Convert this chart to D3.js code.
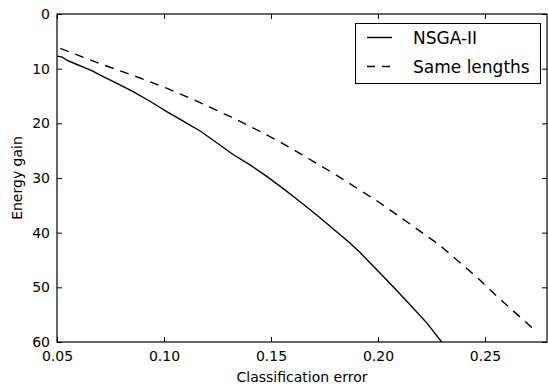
<!DOCTYPE html>
<html>
<head>
<meta charset="utf-8">
<script src="https://cdn.jsdelivr.net/npm/d3@7"></script>
<style>
  body { margin: 0; background: #fff; }
  svg { display: block; font-family: "DejaVu Sans", sans-serif; }
</style>
</head>
<body>
<div id="chart"></div>
<script>
// values
const nsgaX = [0.050, 0.0525, 0.0548, 0.0585, 0.0623, 0.0665, 0.0702, 0.078, 0.0856, 0.094, 0.1015, 0.109, 0.1169, 0.1245, 0.1323, 0.1402, 0.148, 0.1556, 0.1635, 0.1715, 0.179, 0.1869, 0.1915, 0.199, 0.2069, 0.215, 0.2228, 0.2298];
const nsgaY = [7.7, 7.9, 8.5, 9.1, 9.7, 10.4, 11.2, 12.7, 14.2, 16.1, 17.9, 19.6, 21.4, 23.5, 25.7, 27.6, 29.7, 31.9, 34.3, 36.8, 39.3, 41.9, 43.6, 46.6, 49.8, 53.2, 56.5, 60.0];
const sameX = [0.0515, 0.0702, 0.0860, 0.1015, 0.1169, 0.1295, 0.1420, 0.1542, 0.1665, 0.1790, 0.2000, 0.2135, 0.2289, 0.2467, 0.2555, 0.2723];
const sameY = [6.3, 9.1, 11.3, 13.6, 16.2, 18.5, 20.9, 23.4, 26.2, 29.1, 34.3, 38.0, 42.3, 48.3, 51.6, 57.5];
const xTicks = [0.05, 0.10, 0.15, 0.20, 0.25];
const yTicks = [0, 10, 20, 30, 40, 50, 60];
const seriesNames = ["NSGA-II", "Same lengths"];

const W = 548, H = 387;
const pLeft = 57, pRight = 547, pTop = 14, pBottom = 342;
const dash = "9,7";

const svg = d3.select("#chart").append("svg")
  .attr("width", W)
  .attr("height", H);

const x = d3.scaleLinear().domain([0.05, 0.279]).range([pLeft, pRight]);
const y = d3.scaleLinear().domain([0, 60]).range([pTop, pBottom]);

svg.append("clipPath").attr("id", "plot")
  .append("rect")
  .attr("x", pLeft).attr("y", pTop)
  .attr("width", pRight - pLeft).attr("height", pBottom - pTop);

const line = d3.line()
  .x(d => x(d[0]))
  .y(d => y(d[1]));

const nsga = nsgaX.map((v, i) => [v, nsgaY[i]]);
const same = sameX.map((v, i) => [v, sameY[i]]);

const g = svg.append("g").attr("clip-path", "url(#plot)");
g.append("path").datum(nsga)
  .attr("d", line)
  .attr("fill", "none")
  .attr("stroke", "#000")
  .attr("stroke-width", 1.4);
g.append("path").datum(same)
  .attr("d", line)
  .attr("fill", "none")
  .attr("stroke", "#000")
  .attr("stroke-width", 1.4)
  .attr("stroke-dasharray", dash);

// inward ticks on all four sides
const tickLen = 5;
svg.append("g").attr("transform", "translate(0," + pBottom + ")")
  .call(d3.axisBottom(x).tickValues(xTicks).tickSize(-tickLen).tickPadding(9).tickFormat(d3.format(".2f")))
  .call(a => a.select(".domain").remove())
  .call(a => a.selectAll("text").attr("font-size", 14).attr("font-family", "DejaVu Sans").attr("fill", "#000"));
svg.append("g").attr("transform", "translate(0," + pTop + ")")
  .call(d3.axisTop(x).tickValues(xTicks).tickSize(-tickLen).tickFormat(""))
  .call(a => a.select(".domain").remove());
svg.append("g").attr("transform", "translate(" + pLeft + ",0)")
  .call(d3.axisLeft(y).tickValues(yTicks).tickSize(-tickLen).tickPadding(7))
  .call(a => a.select(".domain").remove())
  .call(a => a.selectAll("text").attr("font-size", 14).attr("font-family", "DejaVu Sans").attr("fill", "#000"));
svg.append("g").attr("transform", "translate(" + pRight + ",0)")
  .call(d3.axisRight(y).tickValues(yTicks).tickSize(-tickLen).tickFormat(""))
  .call(a => a.select(".domain").remove());

svg.selectAll(".tick line").attr("stroke", "#000").attr("stroke-width", 1);

svg.append("rect")
  .attr("x", pLeft).attr("y", pTop)
  .attr("width", pRight - pLeft).attr("height", pBottom - pTop)
  .attr("fill", "none")
  .attr("stroke", "#000")
  .attr("stroke-width", 1.2);

// axis labels
svg.append("text")
  .attr("x", (pLeft + pRight) / 2).attr("y", 382)
  .attr("text-anchor", "middle")
  .attr("font-size", 14)
  .text("Classification error");
svg.append("text")
  .attr("transform", "translate(22," + (pTop + pBottom) / 2 + ") rotate(-90)")
  .attr("text-anchor", "middle")
  .attr("font-size", 14)
  .text("Energy gain");

// legend
const lg = svg.append("g");
lg.append("rect")
  .attr("x", 355.5).attr("y", 23.5)
  .attr("width", 185).attr("height", 60)
  .attr("fill", "#fff")
  .attr("stroke", "#000")
  .attr("stroke-width", 1);
seriesNames.forEach((name, i) => {
  const ly = 37.5 + i * 29;
  lg.append("line")
    .attr("x1", 367).attr("x2", 392)
    .attr("y1", ly).attr("y2", ly)
    .attr("stroke", "#000")
    .attr("stroke-width", 1.4)
    .attr("stroke-dasharray", i === 1 ? "8,7" : null);
  lg.append("text")
    .attr("x", 413).attr("y", ly + 6)
    .attr("font-size", 17)
    .text(name);
});
</script>
</body>
</html>
